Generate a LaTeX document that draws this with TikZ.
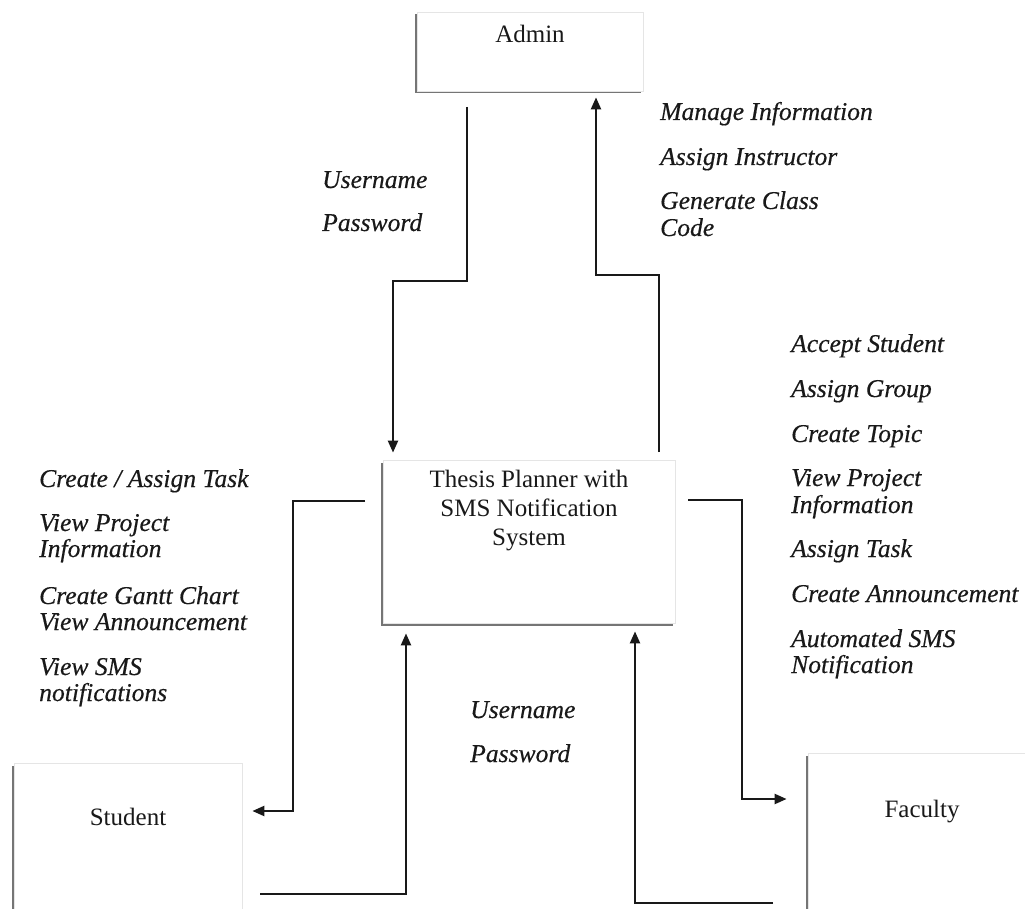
\documentclass[tikz,border=0pt]{standalone}
\usepackage{fontspec}
\setmainfont{Liberation Serif}
\newfontfamily\noteface{Liberation Serif}[UprightFeatures={FakeBold=0.4}, ItalicFeatures={FakeBold=0.4}]
\usetikzlibrary{arrows.meta,shadows}
\tikzset{
  box/.style={draw=black!10, line width=0.8pt, fill=white,
    drop shadow={shadow xshift=-2.5pt, shadow yshift=-2.5pt, fill=black!60, opacity=0.9}},
  title/.style={font=\fontsize{25}{29}\selectfont, align=center, inner sep=0pt, text=black!90},
  note/.style={font=\noteface\fontsize{25.6}{26}\selectfont\itshape, anchor=base west, inner sep=0pt, text=black!90},
  flow/.style={line width=2.3pt, draw=black!90, -{Triangle[length=12pt,width=10pt]}},
}
\begin{document}
\begin{tikzpicture}[x=1pt,y=-1pt]
\clip (0,0) rectangle (1025,909);
\fill[white] (0,0) rectangle (1025,909);

% entities and the system
\node[box, minimum width=226pt, minimum height=79pt]  (admin)   at (530,51.5) {};
\node[box, minimum width=292pt, minimum height=163pt] (sys)     at (529,541.5) {};
\node[box, minimum width=228pt, minimum height=200pt] (student) at (128,863) {};
\node[box, minimum width=228pt, minimum height=200pt] (faculty) at (922,853) {};

\node[title] (adminT)   at ([yshift=-22pt]admin.north)   {Admin};
\node[title] (sysT)     at ([yshift=-51pt]sys.north)     {Thesis Planner with\\SMS Notification\\System};
\node[title] (studentT) at ([yshift=-54pt]student.north) {Student};
\node[title] (facultyT) at ([yshift=-59pt]faculty.north) {Faculty};

% bend points of the data flows
\coordinate (p1) at (467,107);  \coordinate (p1b) at (393,281);
\coordinate (p2) at (659,452);  \coordinate (p2b) at (596,275);
\coordinate (p3) at (365,501);  \coordinate (p3b) at (293,811);
\coordinate (p4) at (260,894);  \coordinate (p4b) at (406,894);
\coordinate (p5) at (688,500);  \coordinate (p5b) at (742,799);
\coordinate (p6) at (773,903);  \coordinate (p6b) at (635,903);

\draw[flow, shorten >=7pt]  (p1) |- (p1b) -- (p1b |- sys.north);
\draw[flow, shorten >=6pt]  (p2) |- (p2b) -- (p2b |- admin.south);
\draw[flow, shorten >=10pt] (p3) -| (p3b) -- (p3b -| student.east);
\draw[flow, shorten >=10pt] (p4) -- (p4b) -- (p4b |- sys.south);
\draw[flow, shorten >=21pt] (p5) -| (p5b) -- (p5b -| faculty.west);
\draw[flow, shorten >=8pt]  (p6) -- (p6b) -- (p6b |- sys.south);

% admin login
\node[note] (u1) at (322,188) {Username};
\node[note] (w1) at (322,231) {Password};

% admin functions
\node[note] (a1) at (660,120) {Manage Information};
\node[note] (a2) at (660,165) {Assign Instructor};
\node[note] (a3) at (660,209) {Generate Class};
\node[note] (a4) at (660,236) {Code};

% faculty functions
\node[note] (f1) at (791,352) {Accept Student};
\node[note] (f2) at (791,397) {Assign Group};
\node[note] (f3) at (791,442) {Create Topic};
\node[note] (f4) at (791,486) {View Project};
\node[note] (f5) at (791,513) {Information};
\node[note] (f6) at (791,557) {Assign Task};
\node[note] (f7) at (791,602) {Create Announcement};
\node[note] (f8) at (791,647) {Automated SMS};
\node[note] (f9) at (791,673) {Notification};

% student functions
\node[note] (s1) at (39,487) {Create / Assign Task};
\node[note] (s2) at (39,531) {View Project};
\node[note] (s3) at (39,557) {Information};
\node[note] (s4) at (39,604) {Create Gantt Chart};
\node[note] (s5) at (39,630) {View Announcement};
\node[note] (s6) at (39,675) {View SMS};
\node[note] (s7) at (39,701) {notifications};

% user login
\node[note] (u2) at (470,718) {Username};
\node[note] (w2) at (470,762) {Password};
\end{tikzpicture}
\end{document}
